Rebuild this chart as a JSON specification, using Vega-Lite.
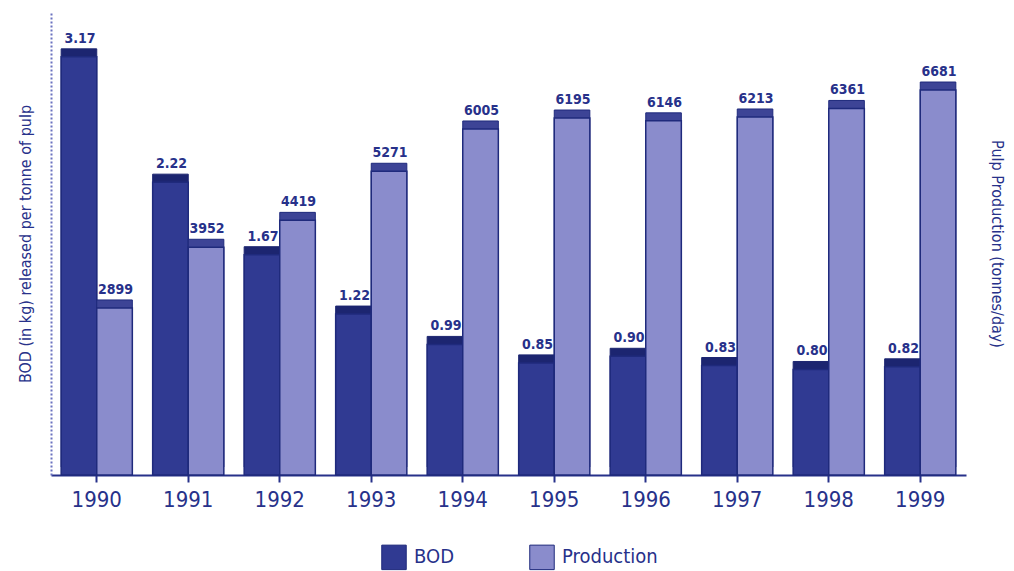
{
  "$schema": "https://vega.github.io/schema/vega-lite/v6.json",
  "autosize": "none",
  "width": 915,
  "height": 463,
  "padding": {"left": 51, "top": 12, "right": 48, "bottom": 96},
  "background": "white",
  "data": {
    "values": [
      {"year": "1990", "series": "BOD", "value": 3.17, "label": "3.17"},
      {"year": "1991", "series": "BOD", "value": 2.22, "label": "2.22"},
      {"year": "1992", "series": "BOD", "value": 1.67, "label": "1.67"},
      {"year": "1993", "series": "BOD", "value": 1.22, "label": "1.22"},
      {"year": "1994", "series": "BOD", "value": 0.99, "label": "0.99"},
      {"year": "1995", "series": "BOD", "value": 0.85, "label": "0.85"},
      {"year": "1996", "series": "BOD", "value": 0.90, "label": "0.90"},
      {"year": "1997", "series": "BOD", "value": 0.83, "label": "0.83"},
      {"year": "1998", "series": "BOD", "value": 0.80, "label": "0.80"},
      {"year": "1999", "series": "BOD", "value": 0.82, "label": "0.82"},
      {"year": "1990", "series": "Production", "value": 2899, "label": "2899"},
      {"year": "1991", "series": "Production", "value": 3952, "label": "3952"},
      {"year": "1992", "series": "Production", "value": 4419, "label": "4419"},
      {"year": "1993", "series": "Production", "value": 5271, "label": "5271"},
      {"year": "1994", "series": "Production", "value": 6005, "label": "6005"},
      {"year": "1995", "series": "Production", "value": 6195, "label": "6195"},
      {"year": "1996", "series": "Production", "value": 6146, "label": "6146"},
      {"year": "1997", "series": "Production", "value": 6213, "label": "6213"},
      {"year": "1998", "series": "Production", "value": 6361, "label": "6361"},
      {"year": "1999", "series": "Production", "value": 6681, "label": "6681"}
    ]
  },
  "encoding": {
    "x": {
      "field": "year",
      "type": "nominal",
      "scale": {"paddingInner": 0.16, "paddingOuter": 0.08},
      "axis": {
        "title": null,
        "labelAngle": 0,
        "labelFont": "DejaVu Sans Condensed",
        "labelFontSize": 22,
        "labelColor": "#27318a",
        "labelPadding": 7,
        "domainColor": "#27318a",
        "domainWidth": 2,
        "tickColor": "#27318a",
        "tickWidth": 2,
        "tickSize": 7
      }
    },
    "xOffset": {"field": "series", "type": "nominal", "scale": {"domain": ["BOD", "Production"], "paddingInner": 0, "paddingOuter": 0.08}},
    "color": {
      "field": "series",
      "type": "nominal",
      "scale": {"domain": ["BOD", "Production"], "range": ["#303a92", "#8a8ccc"]},
      "legend": {
        "title": null,
        "orient": "none",
        "direction": "horizontal",
        "legendX": 330,
        "legendY": 532,
        "symbolType": "square",
        "symbolSize": 600,
        "symbolStrokeColor": "#1f2a7c",
        "symbolStrokeWidth": 1,
        "labelFont": "DejaVu Sans Condensed",
        "labelFontSize": 20,
        "labelColor": "#27318a",
        "columnPadding": 72,
        "labelOffset": 7
      }
    }
  },
  "layer": [
    {
      "transform": [{"filter": "datum.series === 'BOD'"}],
      "encoding": {
        "y": {
          "field": "value",
          "type": "quantitative",
          "scale": {"domain": [0, 3.51], "nice": false},
          "axis": {
            "title": "BOD (in kg) released per tonne of pulp",
            "titleFont": "DejaVu Sans Condensed",
            "titleFontSize": 16,
            "titleFontWeight": "normal",
            "titleColor": "#27318a",
            "titlePadding": 18,
            "labels": false,
            "ticks": false,
            "grid": false,
            "domainColor": "#6a72c0",
            "domainDash": [2, 2],
            "domainWidth": 2
          }
        }
      },
      "layer": [
        {"mark": {"type": "bar", "xOffset": 6, "yOffset": -8, "color": "#1c2570", "stroke": "#1c2570"}, "encoding": {"color": {"value": "#1c2570"}}},
        {"mark": {"type": "bar", "stroke": "#1f2a7c", "strokeWidth": 1.5}},
        {"mark": {"type": "text", "baseline": "bottom", "dy": -11, "dx": 1, "font": "DejaVu Sans Condensed", "fontSize": 14, "fontWeight": "bold"}, "encoding": {"text": {"field": "label"}, "color": {"value": "#27318a"}}}
      ]
    },
    {
      "transform": [{"filter": "datum.series === 'Production'"}],
      "encoding": {
        "y": {
          "field": "value",
          "type": "quantitative",
          "scale": {"domain": [0, 8035], "nice": false},
          "axis": {
            "orient": "right",
            "title": "Pulp Production (tonnes/day)",
            "titleFont": "DejaVu Sans Condensed",
            "titleFontSize": 16,
            "titleFontWeight": "normal",
            "titleColor": "#27318a",
            "titlePadding": 22,
            "labels": false,
            "ticks": false,
            "grid": false,
            "domain": false
          }
        }
      },
      "layer": [
        {"mark": {"type": "bar", "xOffset": 6, "yOffset": -8, "color": "#3d4496", "stroke": "#1f2a7c"}, "encoding": {"color": {"value": "#3d4496"}}},
        {"mark": {"type": "bar", "stroke": "#1f2a7c", "strokeWidth": 1.5}},
        {"mark": {"type": "text", "baseline": "bottom", "dy": -11, "dx": 1, "font": "DejaVu Sans Condensed", "fontSize": 14, "fontWeight": "bold"}, "encoding": {"text": {"field": "label"}, "color": {"value": "#27318a"}}}
      ]
    }
  ],
  "resolve": {"scale": {"y": "independent"}},
  "config": {"view": {"stroke": null}}
}
